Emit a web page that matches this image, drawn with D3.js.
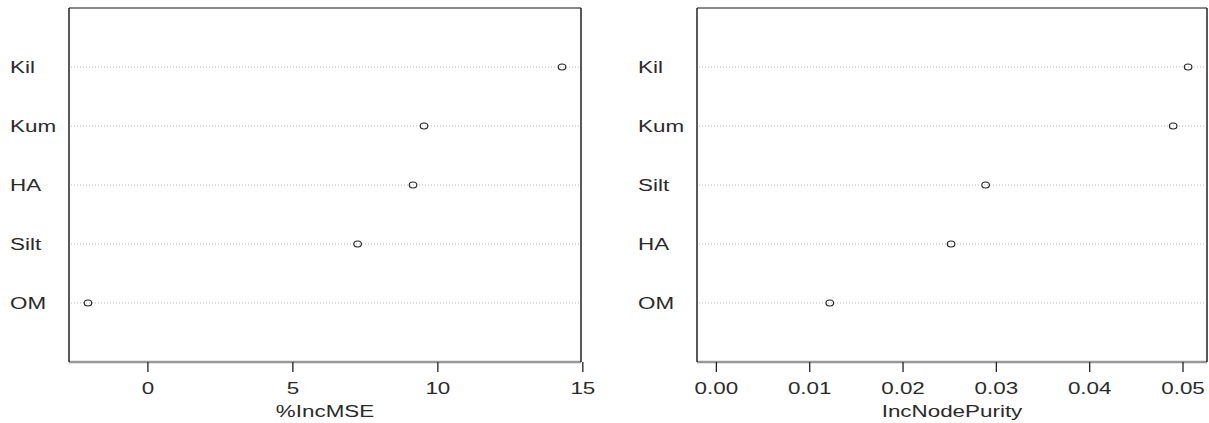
<!DOCTYPE html>
<html>
<head>
<meta charset="utf-8">
<script src="https://cdn.jsdelivr.net/npm/d3@7"></script>
<style>
  html, body { margin: 0; padding: 0; background: #fff; }
  svg { display: block; }
</style>
</head>
<body>
<svg id="chart"></svg>
<script>
// variable importance, left panel
const mseLabels = ['Kil', 'Kum', 'HA', 'Silt', 'OM'];
const mseValues = [14.3, 9.54, 9.16, 7.25, -2.05];
const mseTicks = [0, 5, 10, 15];

// variable importance, right panel
const purityLabels = ['Kil', 'Kum', 'Silt', 'HA', 'OM'];
const purityValues = [0.0506, 0.049, 0.0289, 0.0252, 0.0122];
const purityTicks = [0, 0.01, 0.02, 0.03, 0.04, 0.05];

const width = 1209;
const height = 423;
const plotTop = 8;
const plotBottom = 362;
const fontSize = 16;
const stretch = 1.4; // the source image is stretched sideways
const textColor = '#2a2a2a';

const svg = d3.select('#chart')
	.attr('width', width)
	.attr('height', height)
	.style('font-family', '"Liberation Sans", Arial, sans-serif');

function drawPanel(opts) {
	const { labels, values, ticks, title, left, right, labelX, fromZero, fmt } = opts;
	const n = labels.length;

	// R style: range extended by 4% on each side
	const lo = fromZero ? 0 : d3.min(values);
	const hi = d3.max(values);
	const r = hi - lo;
	const x = d3.scaleLinear()
		.domain([lo - 0.04 * r, hi + 0.04 * r])
		.range([left, right]);
	const y = d3.scaleLinear()
		.domain([0, n + 1])
		.range([plotBottom, plotTop]);

	const g = svg.append('g');

	// dotted guide lines
	g.append('g')
		.selectAll('line')
		.data(values)
		.join('line')
		.attr('x1', left + 2)
		.attr('x2', right - 2)
		.attr('y1', (d, i) => y(n - i))
		.attr('y2', (d, i) => y(n - i))
		.attr('stroke', '#b8b8b8')
		.attr('stroke-width', 1)
		.attr('stroke-dasharray', '1,2');

	// points
	g.append('g')
		.selectAll('ellipse')
		.data(values)
		.join('ellipse')
		.attr('cx', (d) => x(d))
		.attr('cy', (d, i) => y(n - i))
		.attr('rx', 3.8)
		.attr('ry', 3)
		.attr('fill', 'none')
		.attr('stroke', '#222')
		.attr('stroke-width', 1.1);

	// category labels
	g.append('g')
		.selectAll('text')
		.data(labels)
		.join('text')
		.attr('transform', (d, i) => `translate(${labelX},${y(n - i)}) scale(${stretch},1)`)
		.attr('dy', '0.35em')
		.attr('font-size', fontSize)
		.attr('fill', textColor)
		.text((d) => d);

	// box
	g.append('line')
		.attr('x1', left).attr('x2', right)
		.attr('y1', plotTop).attr('y2', plotTop)
		.attr('stroke', '#888').attr('stroke-width', 2);
	g.append('line')
		.attr('x1', left).attr('x2', right)
		.attr('y1', plotBottom).attr('y2', plotBottom)
		.attr('stroke', '#999').attr('stroke-width', 2.5);
	g.append('line')
		.attr('x1', left).attr('x2', left)
		.attr('y1', plotTop).attr('y2', plotBottom)
		.attr('stroke', '#222').attr('stroke-width', 1.5);
	g.append('line')
		.attr('x1', right).attr('x2', right)
		.attr('y1', plotTop).attr('y2', plotBottom)
		.attr('stroke', '#222').attr('stroke-width', 1.5);

	// x axis
	g.append('g')
		.attr('transform', `translate(0,${plotBottom})`)
		.call(d3.axisBottom(x).tickValues(ticks).tickSize(10).tickPadding(10.5).tickFormat(fmt))
		.call((a) => a.select('.domain').remove())
		.call((a) => a.selectAll('.tick line').attr('stroke', '#222').attr('stroke-width', 1.3))
		.call((a) => a.selectAll('.tick text')
			.attr('transform', `scale(${stretch},1)`)
			.attr('font-size', fontSize)
			.attr('fill', textColor)
			.attr('font-family', '"Liberation Sans", Arial, sans-serif'));

	// axis title
	g.append('text')
		.attr('transform', `translate(${(left + right) / 2},417) scale(${stretch},1)`)
		.attr('text-anchor', 'middle')
		.attr('font-size', fontSize)
		.attr('fill', textColor)
		.text(title);
}

drawPanel({
	labels: mseLabels,
	values: mseValues,
	ticks: mseTicks,
	title: '%IncMSE',
	left: 69,
	right: 581,
	labelX: 10,
	fromZero: false,
	fmt: d3.format('d')
});

drawPanel({
	labels: purityLabels,
	values: purityValues,
	ticks: purityTicks,
	title: 'IncNodePurity',
	left: 697,
	right: 1207,
	labelX: 638,
	fromZero: true,
	fmt: d3.format('.2f')
});
</script>
</body>
</html>
